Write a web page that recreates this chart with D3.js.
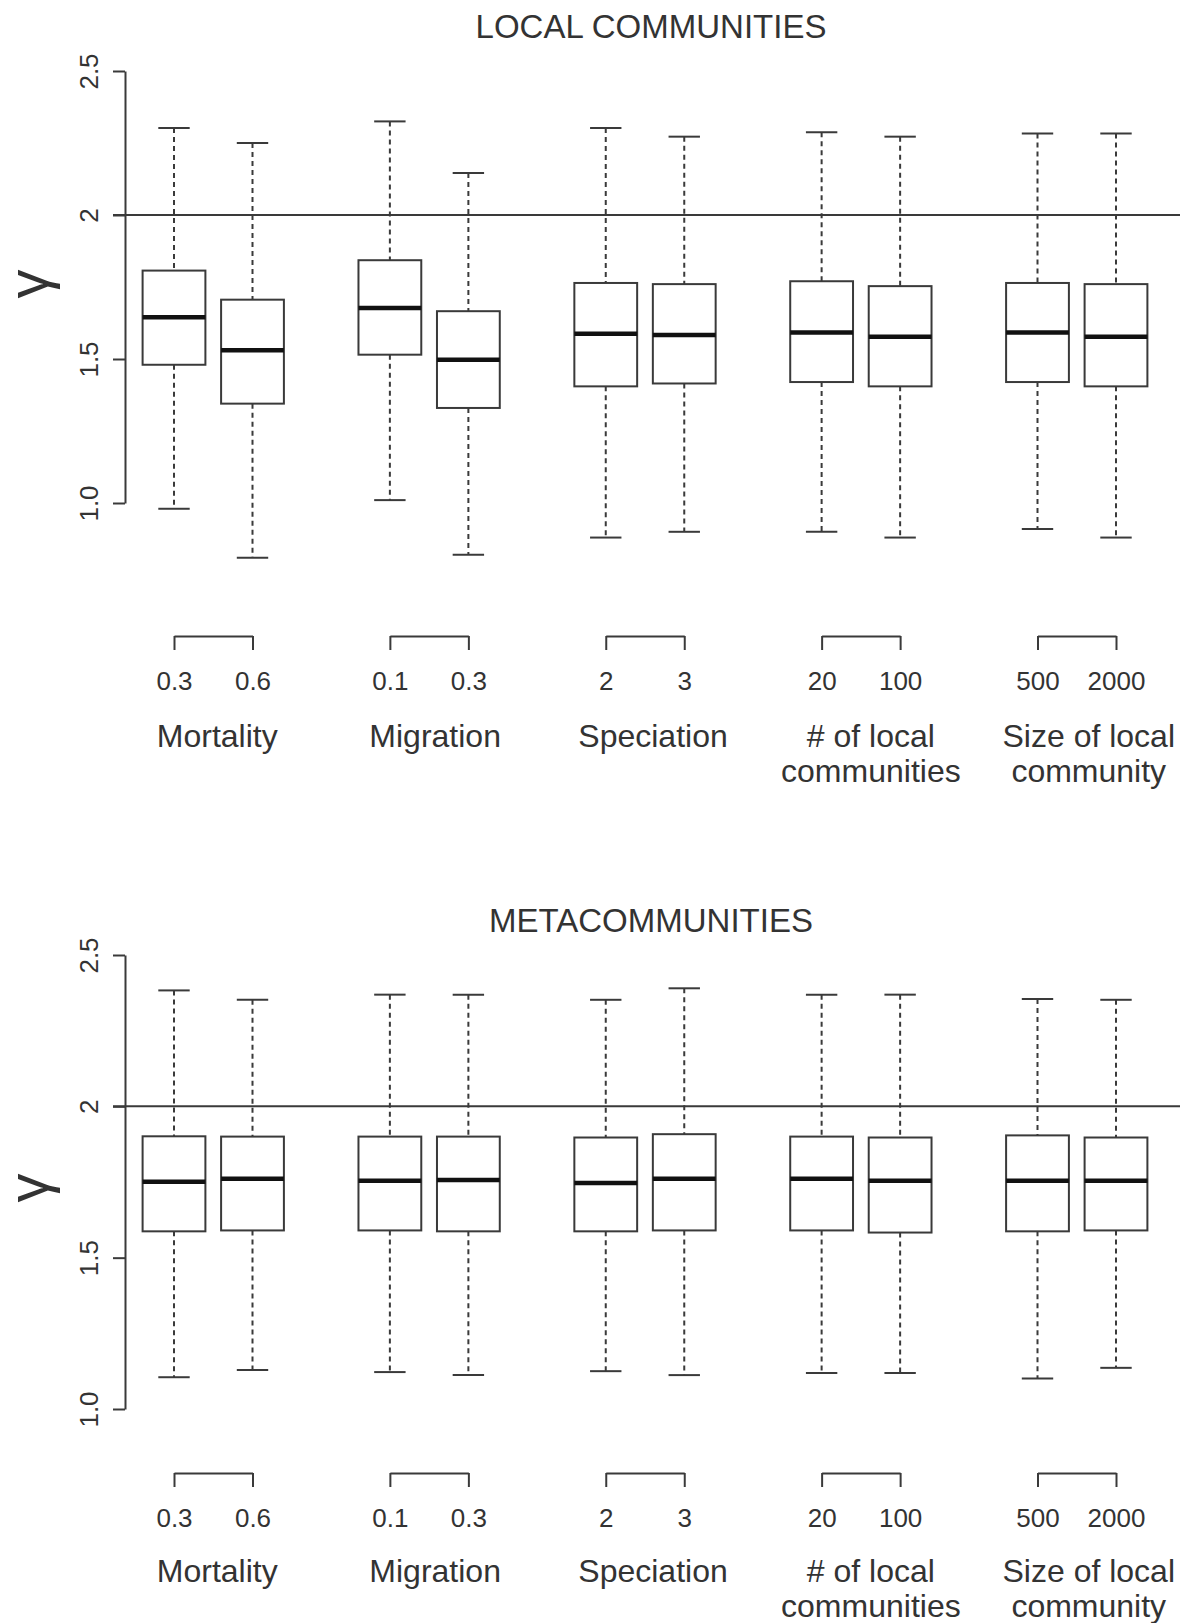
<!DOCTYPE html>
<html>
<head>
<meta charset="utf-8">
<script src="https://cdn.jsdelivr.net/npm/d3@7"></script>
<style>
  html, body { margin: 0; padding: 0; background: #fff; }
  svg text { font-family: "Liberation Sans", Arial, sans-serif; fill: #333; }
</style>
</head>
<body>
<div id="chart"></div>
<script>
// categorias e níveis
const groupNames = ['Mortality', 'Migration', 'Speciation', '# of local|communities', 'Size of local|community'];
const levelLabels = ['0.3', '0.6', '0.1', '0.3', '2', '3', '20', '100', '500', '2000'];
const boxPositions = [1, 2, 3.75, 4.75, 6.5, 7.5, 9.25, 10.25, 12, 13];

const yTicks = [1.0, 1.5, 2, 2.5];
const yTickLabels = ['1.0', '1.5', '2', '2.5'];
const refValue = 2;

// LOCAL COMMUNITIES
const localLow  = [0.98, 0.81, 1.01, 0.82, 0.88, 0.90, 0.90, 0.88, 0.91, 0.88];
const localQ1   = [1.48, 1.345, 1.515, 1.33, 1.405, 1.415, 1.42, 1.405, 1.42, 1.405];
const localMed  = [1.645, 1.53, 1.677, 1.497, 1.588, 1.583, 1.592, 1.577, 1.592, 1.577];
const localQ3   = [1.807, 1.706, 1.843, 1.666, 1.764, 1.76, 1.77, 1.753, 1.764, 1.76];
const localHigh = [2.302, 2.25, 2.325, 2.146, 2.302, 2.272, 2.287, 2.272, 2.283, 2.283];

// METACOMMUNITIES
const metaLow  = [1.105, 1.129, 1.122, 1.112, 1.125, 1.112, 1.119, 1.119, 1.101, 1.136];
const metaQ1   = [1.587, 1.59, 1.59, 1.587, 1.587, 1.59, 1.59, 1.583, 1.587, 1.59];
const metaMed  = [1.751, 1.761, 1.754, 1.757, 1.747, 1.761, 1.761, 1.754, 1.754, 1.754];
const metaQ3   = [1.901, 1.90, 1.90, 1.90, 1.897, 1.908, 1.90, 1.897, 1.904, 1.897];
const metaHigh = [2.383, 2.352, 2.369, 2.369, 2.352, 2.39, 2.369, 2.369, 2.355, 2.352];

const W = 1180, H = 1623;
const INK = '#3a3a3a';

const svg = d3.select('#chart').append('svg')
    .attr('width', W)
    .attr('height', H);

const x = d3.scaleLinear().domain([1, 13]).range([174, 1116]);
const unit = x(2) - x(1);
const boxW = unit * 0.8;
const capW = unit * 0.4;

function drawPanel(cfg) {
    const y = d3.scaleLinear().domain([1, 2.5]).range(cfg.yRange);
    const g = svg.append('g');

    // título
    g.append('text')
        .attr('x', 651).attr('y', cfg.titleY)
        .attr('text-anchor', 'middle')
        .attr('font-size', '33px')
        .text(cfg.title);

    // eixo y
    const yAxis = g.append('g')
        .attr('transform', 'translate(125,0)')
        .call(d3.axisLeft(y).tickValues(yTicks)
            .tickFormat((d, i) => yTickLabels[i])
            .tickSize(12).tickSizeOuter(0));
    yAxis.select('.domain').attr('stroke', INK).attr('stroke-width', 2);
    yAxis.selectAll('.tick line').attr('stroke', INK).attr('stroke-width', 2);
    yAxis.selectAll('.tick text')
        .attr('x', null).attr('dy', null)
        .attr('text-anchor', 'middle')
        .attr('transform', 'translate(-27,0) rotate(-90)')
        .attr('font-size', '26px')
        .attr('fill', '#333');

    // rótulo gamma
    g.append('text')
        .attr('transform', `translate(40,${cfg.gammaY}) rotate(-90)`)
        .attr('text-anchor', 'middle')
        .attr('dy', '0.14em')
        .attr('font-family', '"Liberation Serif", "Times New Roman", serif')
        .attr('font-size', '58px')
        .attr('fill', '#111')
        .text('γ');

    // linha de referência
    g.append('line')
        .attr('x1', 113).attr('x2', W)
        .attr('y1', y(refValue)).attr('y2', y(refValue))
        .attr('stroke', INK).attr('stroke-width', 2);

    const stats = boxPositions.map((p, i) => ({
        p, low: cfg.low[i], q1: cfg.q1[i], med: cfg.med[i], q3: cfg.q3[i], high: cfg.high[i]
    }));

    const box = g.selectAll('g.box').data(stats).enter().append('g').attr('class', 'box');

    // bigodes
    box.append('line')
        .attr('x1', d => x(d.p)).attr('x2', d => x(d.p))
        .attr('y1', d => y(d.high)).attr('y2', d => y(d.q3))
        .attr('stroke', INK).attr('stroke-width', 2).attr('stroke-dasharray', '5,4');
    box.append('line')
        .attr('x1', d => x(d.p)).attr('x2', d => x(d.p))
        .attr('y1', d => y(d.q1)).attr('y2', d => y(d.low))
        .attr('stroke', INK).attr('stroke-width', 2).attr('stroke-dasharray', '5,4');
    box.append('line')
        .attr('x1', d => x(d.p) - capW / 2).attr('x2', d => x(d.p) + capW / 2)
        .attr('y1', d => y(d.high)).attr('y2', d => y(d.high))
        .attr('stroke', INK).attr('stroke-width', 2);
    box.append('line')
        .attr('x1', d => x(d.p) - capW / 2).attr('x2', d => x(d.p) + capW / 2)
        .attr('y1', d => y(d.low)).attr('y2', d => y(d.low))
        .attr('stroke', INK).attr('stroke-width', 2);

    // caixas
    box.append('rect')
        .attr('x', d => x(d.p) - boxW / 2)
        .attr('width', boxW)
        .attr('y', d => y(d.q3))
        .attr('height', d => y(d.q1) - y(d.q3))
        .attr('fill', '#fff')
        .attr('stroke', INK).attr('stroke-width', 2);

    // medianas
    box.append('line')
        .attr('x1', d => x(d.p) - boxW / 2).attr('x2', d => x(d.p) + boxW / 2)
        .attr('y1', d => y(d.med)).attr('y2', d => y(d.med))
        .attr('stroke', '#111').attr('stroke-width', 4.5);

    // eixos dos grupos
    groupNames.forEach((name, gi) => {
        const p1 = boxPositions[gi * 2], p2 = boxPositions[gi * 2 + 1];
        const gx = d3.scaleLinear().domain([p1, p2]).range([x(p1), x(p2)]);
        const ax = g.append('g')
            .attr('transform', `translate(0,${cfg.bracketY})`)
            .call(d3.axisBottom(gx).tickValues([p1, p2])
                .tickFormat((d, i) => levelLabels[gi * 2 + i])
                .tickSize(14).tickSizeOuter(0));
        ax.select('.domain').attr('stroke', INK).attr('stroke-width', 2);
        ax.selectAll('.tick line').attr('stroke', INK).attr('stroke-width', 2);
        ax.selectAll('.tick text')
            .attr('y', cfg.tickLabelY - cfg.bracketY)
            .attr('dy', null)
            .attr('font-size', '26px')
            .attr('fill', '#333');

        const lines = name.split('|');
        const cx = (x(p1) + x(p2)) / 2 + 4 + gi * 2;
        lines.forEach((ln, li) => {
            g.append('text')
                .attr('x', cx)
                .attr('y', cfg.groupLabelY + li * 35)
                .attr('text-anchor', 'middle')
                .attr('font-size', '32px')
                .text(ln);
        });
    });
}

drawPanel({
    title: 'LOCAL COMMUNITIES', titleY: 38,
    yRange: [503, 71], gammaY: 284,
    bracketY: 636, tickLabelY: 690, groupLabelY: 747,
    low: localLow, q1: localQ1, med: localMed, q3: localQ3, high: localHigh
});

drawPanel({
    title: 'METACOMMUNITIES', titleY: 932,
    yRange: [1409, 955], gammaY: 1188,
    bracketY: 1473, tickLabelY: 1527, groupLabelY: 1582,
    low: metaLow, q1: metaQ1, med: metaMed, q3: metaQ3, high: metaHigh
});
</script>
</body>
</html>
